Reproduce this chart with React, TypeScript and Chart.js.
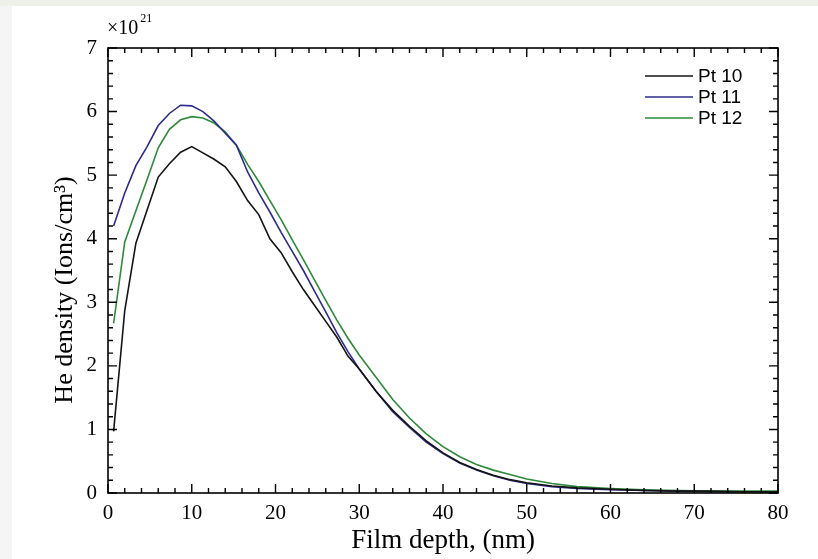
import React, { useEffect, useRef } from 'react';
import { Chart, registerables } from 'chart.js';

Chart.register(...registerables);

// Film depth (nm)
const DEPTH = [
  0.67, 2, 3.33, 4.67, 6, 7.33, 8.67, 10, 11.33, 12.67, 14, 15.33, 16.67, 18, 19.33, 20.67, 22, 23.33,
  24.67, 26, 27.33, 28.67, 30, 32, 34, 36, 38, 40, 42, 44, 46, 48, 50, 53, 56, 60, 64, 68, 72, 76, 80,
];
// He density (x10^21 ions/cm^3)
const PT10 = [
  0.97, 2.87, 3.93, 4.45, 4.97, 5.18, 5.36, 5.45, 5.35, 5.25, 5.13, 4.9, 4.6, 4.38, 4.0, 3.78, 3.48, 3.2,
  2.95, 2.7, 2.45, 2.15, 1.95, 1.6, 1.3, 1.05, 0.82, 0.63, 0.48, 0.37, 0.28, 0.21, 0.16, 0.11, 0.08, 0.06,
  0.04, 0.03, 0.03, 0.02, 0.02,
];
const PT11 = [
  4.2, 4.72, 5.15, 5.45, 5.78, 5.97, 6.1, 6.09, 6.0, 5.85, 5.66, 5.47, 5.05, 4.72, 4.42, 4.1, 3.8, 3.5,
  3.17, 2.85, 2.52, 2.22, 1.95, 1.6, 1.28, 1.03, 0.8, 0.62, 0.47, 0.36, 0.27, 0.2, 0.15, 0.1, 0.07, 0.05,
  0.04, 0.03, 0.02, 0.02, 0.02,
];
const PT12 = [
  2.67, 3.95, 4.44, 4.93, 5.43, 5.72, 5.87, 5.92, 5.9, 5.82, 5.68, 5.47, 5.17, 4.9, 4.6, 4.3, 3.98, 3.67,
  3.35, 3.03, 2.72, 2.43, 2.17, 1.82, 1.47, 1.18, 0.93, 0.73, 0.57, 0.45, 0.36, 0.29, 0.22, 0.15, 0.1, 0.07,
  0.05, 0.04, 0.03, 0.03, 0.03,
];

const SERIES_LABELS = ['Pt 10', 'Pt 11', 'Pt 12'];
const SERIES_COLORS = ['#141414', '#2c2c8c', '#2e8a3a'];

const X_MIN = 0;
const X_MAX = 80;
const X_MAJOR = 10;
const X_MINOR = 2;
const Y_MIN = 0;
const Y_MAX = 7;
const Y_MAJOR = 1;
const Y_MINOR = 0.2;

const X_TITLE = 'Film depth, (nm)';
const Y_TITLE = 'He density (Ions/cm³)';
const EXP_BASE = '×10';
const EXP_POWER = '21';

const SERIF = '"Liberation Serif", "Times New Roman", serif';
const SANS = '"Liberation Sans", Arial, sans-serif';

const W = 818;
const H = 559;

const bgPlugin = {
  id: 'bgPlugin',
  beforeDraw(chart: any) {
    const { ctx, width, height } = chart;
    ctx.save();
    ctx.fillStyle = '#ffffff';
    ctx.fillRect(0, 0, width, height);
    ctx.fillStyle = '#eef1ea';
    ctx.fillRect(0, 0, width, 6);
    ctx.fillStyle = '#f5f5f5';
    ctx.fillRect(0, 6, 12, height - 6);
    ctx.restore();
  },
};

const frameTicksPlugin = {
  id: 'frameTicks',
  afterDatasetsDraw(chart: any) {
    const { ctx, chartArea, scales } = chart;
    const { left, right, top, bottom } = chartArea;
    const x = scales.x;
    const y = scales.y;
    ctx.save();
    ctx.strokeStyle = '#000';
    ctx.lineWidth = 1.6;
    ctx.strokeRect(left, top, right - left, bottom - top);
    ctx.lineWidth = 1.4;
    ctx.beginPath();
    const nX = Math.round((X_MAX - X_MIN) / X_MINOR);
    for (let i = 0; i <= nX; i++) {
      const v = X_MIN + i * X_MINOR;
      const major = Math.abs(v / X_MAJOR - Math.round(v / X_MAJOR)) < 1e-6;
      const len = major ? 9 : 5;
      const px = x.getPixelForValue(v);
      ctx.moveTo(px, bottom);
      ctx.lineTo(px, bottom - len);
      ctx.moveTo(px, top);
      ctx.lineTo(px, top + len);
    }
    const nY = Math.round((Y_MAX - Y_MIN) / Y_MINOR);
    for (let i = 0; i <= nY; i++) {
      const v = Y_MIN + i * Y_MINOR;
      const major = Math.abs(v / Y_MAJOR - Math.round(v / Y_MAJOR)) < 1e-6;
      const len = major ? 9 : 5;
      const py = y.getPixelForValue(v);
      ctx.moveTo(left, py);
      ctx.lineTo(left + len, py);
      ctx.moveTo(right, py);
      ctx.lineTo(right - len, py);
    }
    ctx.stroke();
    ctx.restore();
  },
};

const extrasPlugin = {
  id: 'extras',
  afterDraw(chart: any) {
    const { ctx, chartArea } = chart;
    ctx.save();
    // exponent label
    ctx.fillStyle = '#000';
    ctx.textBaseline = 'alphabetic';
    ctx.textAlign = 'left';
    ctx.font = `20px ${SERIF}`;
    const baseX = chartArea.left - 1;
    ctx.fillText(EXP_BASE, baseX, 34);
    const w = ctx.measureText(EXP_BASE).width;
    ctx.font = `12px ${SERIF}`;
    ctx.fillText(EXP_POWER, baseX + w + 2, 22);

    // legend
    const lineX0 = 645;
    const lineX1 = 693;
    const rowY = [76, 97, 118];
    ctx.font = `19px ${SANS}`;
    ctx.textBaseline = 'middle';
    chart.data.datasets.forEach((ds: any, i: number) => {
      const yy = rowY[i];
      ctx.strokeStyle = ds.borderColor;
      ctx.lineWidth = 1.6;
      ctx.beginPath();
      ctx.moveTo(lineX0, yy);
      ctx.lineTo(lineX1, yy);
      ctx.stroke();
      ctx.fillStyle = '#000';
      ctx.fillText(ds.label, lineX1 + 5, yy + 1);
    });
    ctx.restore();
  },
};

export default function App() {
  const canvasRef = useRef<HTMLCanvasElement | null>(null);

  useEffect(() => {
    const canvas = canvasRef.current;
    if (!canvas) return;
    const series = [PT10, PT11, PT12];
    const chart = new Chart(canvas, {
      type: 'line',
      data: {
        datasets: series.map((vals, i) => ({
          label: SERIES_LABELS[i],
          data: DEPTH.map((d, j) => ({ x: d, y: vals[j] })),
          borderColor: SERIES_COLORS[i],
          backgroundColor: SERIES_COLORS[i],
          borderWidth: 1.6,
          pointRadius: 0,
          tension: 0,
          fill: false,
        })),
      },
      options: {
        animation: false,
        responsive: false,
        maintainAspectRatio: false,
        devicePixelRatio: 1,
        layout: { padding: { top: 48, right: 40, left: 0, bottom: 0 } },
        plugins: {
          legend: { display: false },
          tooltip: { enabled: false },
        },
        scales: {
          x: {
            type: 'linear',
            min: X_MIN,
            max: X_MAX,
            grid: { display: false, drawTicks: false },
            border: { display: false },
            ticks: {
              stepSize: X_MAJOR,
              color: '#000',
              padding: 8,
              maxRotation: 0,
              font: { family: SERIF, size: 21 },
            },
            title: {
              display: true,
              text: X_TITLE,
              color: '#000',
              font: { family: SERIF, size: 27 },
              padding: { top: 0, bottom: 2 },
            },
            afterFit: (scale: any) => {
              scale.height = 66;
            },
          },
          y: {
            type: 'linear',
            min: Y_MIN,
            max: Y_MAX,
            grid: { display: false, drawTicks: false },
            border: { display: false },
            ticks: {
              stepSize: Y_MAJOR,
              color: '#000',
              padding: 11,
              font: { family: SERIF, size: 21 },
            },
            title: {
              display: true,
              text: Y_TITLE + '      ',
              color: '#000',
              font: { family: SERIF, size: 26 },
              padding: { top: 50, bottom: 0 },
            },
            afterFit: (scale: any) => {
              scale.width = 108;
            },
          },
        },
      },
      plugins: [bgPlugin, frameTicksPlugin, extrasPlugin],
    } as any);
    return () => chart.destroy();
  }, []);

  return (
    <div
      style={{
        position: 'fixed',
        left: 0,
        top: 0,
        width: W,
        height: H,
        background: '#fff',
        overflow: 'hidden',
      }}
    >
      <canvas ref={canvasRef} width={W} height={H} style={{ display: 'block', width: W, height: H }} />
    </div>
  );
}
